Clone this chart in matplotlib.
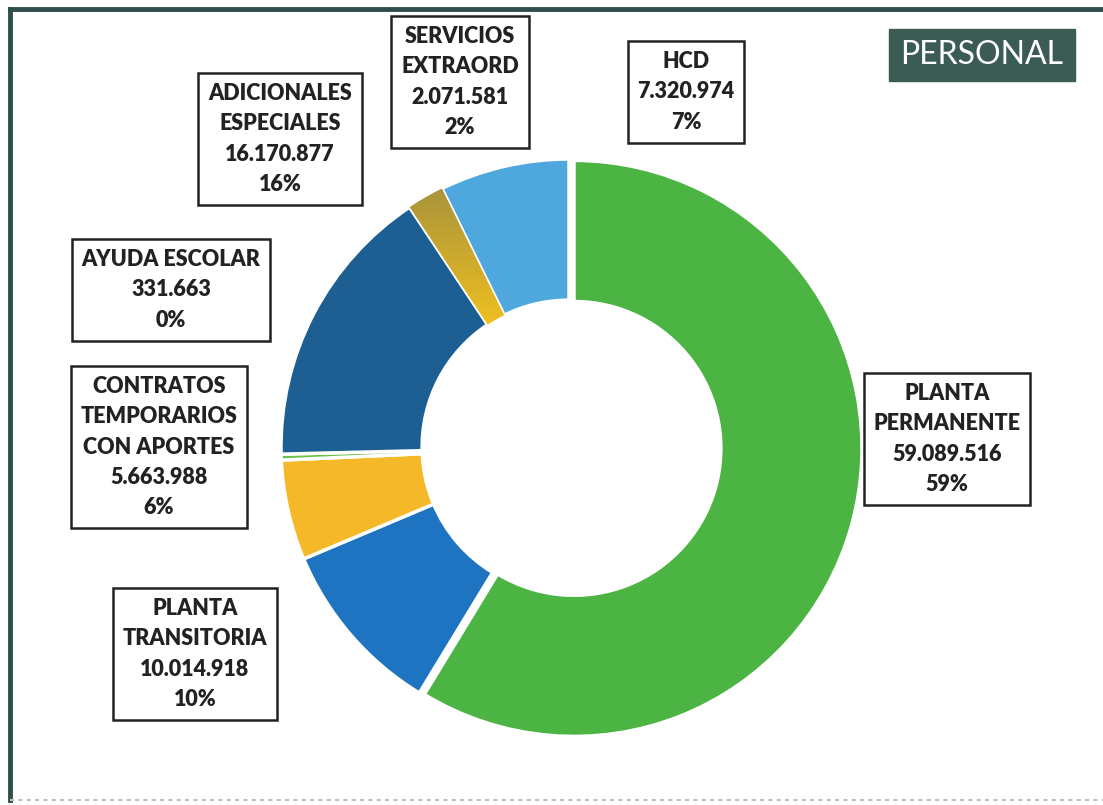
import numpy as np
import matplotlib
matplotlib.use("Agg")
import matplotlib.pyplot as plt
from matplotlib.lines import Line2D
from matplotlib import font_manager

W, H = 1103, 805

# data
categorias = ["PLANTA\nPERMANENTE", "PLANTA\nTRANSITORIA", "CONTRATOS\nTEMPORARIOS\nCON APORTES",
              "AYUDA ESCOLAR", "ADICIONALES\nESPECIALES", "SERVICIOS\nEXTRAORD", "HCD"]
montos = [59089516, 10014918, 5663988, 331663, 16170877, 2071581, 7320974]
colores = ["#4cb443", "#1f74c2", "#f5b828", "#6cc04a", "#1d5f93", "#c9a42c", "#4ea8de"]
# label box centres in pixels (x, y from top)
pos_etiquetas = [(947, 439), (195, 654), (159, 447), (171, 290), (280, 139), (460, 82), (686, 92)]

lato = sorted({(f.name, f.weight) for f in font_manager.fontManager.ttflist if "Lato" in f.name})
print(lato)

plt.rcParams["font.family"] = ["Lato", "DejaVu Sans"]

fig = plt.figure(figsize=(W / 100, H / 100), dpi=100)
fig.patch.set_facecolor("white")

def fx(x):
    return x / W

def fy(y):
    return 1 - y / H

# donut
cx, cy, r = 569, 447, 288
ax = fig.add_axes([fx(cx - r), fy(cy + r), 2 * r / W, 2 * r / H])
explode = [0.018, 0, 0, 0, 0, 0, 0]
wedges, _ = ax.pie(montos, colors=colores, startangle=90, counterclock=False,
                   explode=explode, radius=1,
                   wedgeprops=dict(width=0.49, edgecolor="white", linewidth=2.5))
ax.set_aspect("equal")
ax.axis("off")

# olive-to-gold shading on the small slice
grad = np.linspace(0, 1, 256).reshape(-1, 1)
cmap = matplotlib.colors.LinearSegmentedColormap.from_list("g", ["#f2c21e", "#9b8a42"])
img = ax.imshow(grad, extent=[-0.6, 0, 0.4, 1.0], origin="lower", cmap=cmap,
                aspect="auto", zorder=3)
img.set_clip_path(wedges[5])
ax.set_xlim(-1, 1)
ax.set_ylim(-1, 1)

# labels
total = sum(montos)
for cat, m, (x, y) in zip(categorias, montos, pos_etiquetas):
    num = f"{m:,}".replace(",", ".")
    pct = f"{round(100 * m / total):.0f}%"
    fig.text(fx(x), fy(y), f"{cat}\n{num}\n{pct}", ha="center", va="center",
             fontsize=15.5, fontweight="heavy", color="#222222", linespacing=1.55,
             bbox=dict(boxstyle="square,pad=0.45", fc="white", ec="#222222", lw=1.8))

# title box
fig.text(fx(982), fy(55), "PERSONAL", ha="center", va="center", fontsize=23,
         color="white",
         bbox=dict(boxstyle="square,pad=0.35", fc="#3b5c55", ec="#3b5c55"))

# frame
fig.add_artist(Line2D([fx(10), fx(10)], [fy(9), fy(800)], color="#2e4f49", lw=3.5))
fig.add_artist(Line2D([fx(10), fx(1103)], [fy(9), fy(9)], color="#2e4f49", lw=3.5))
fig.add_artist(Line2D([fx(10), fx(1103)], [fy(800), fy(800)], color="#b8c0c0", lw=1.5,
                      ls=(0, (2, 2))))

fig.savefig("out.png", dpi=100)
